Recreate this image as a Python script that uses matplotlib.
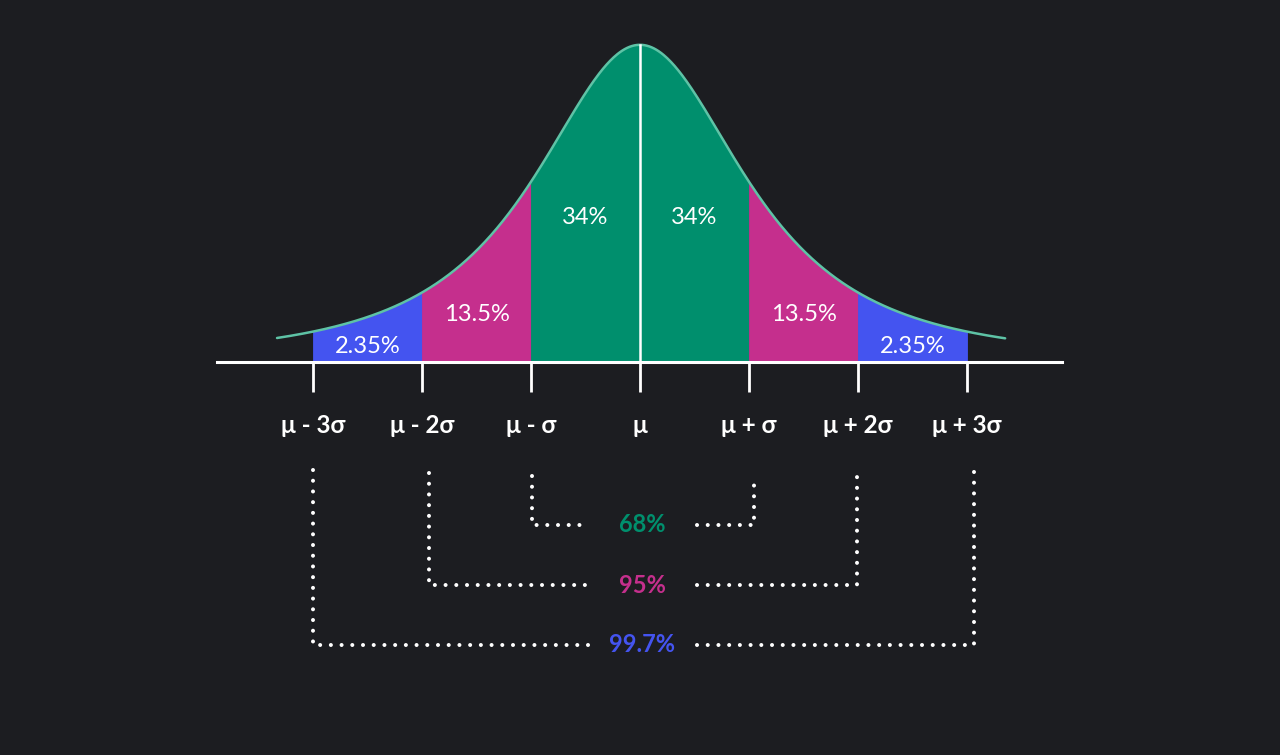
import numpy as np
import matplotlib.pyplot as plt

# colours
BG = "#1c1d21"
GREEN = "#008f6d"
PINK = "#c52f8d"
BLUE = "#4454f0"
CURVE = "#5ec3a6"
WHITE = "#ffffff"

# data (x in units of sigma)
SIGMA_STEPS = [-3, -2, -1, 0, 1, 2, 3]
TICK_LABELS = ["μ - 3σ", "μ - 2σ", "μ - σ", "μ", "μ + σ", "μ + 2σ", "μ + 3σ"]
BAND_FROM = [-3, -2, -1, 0, 1, 2]
BAND_TO = [-2, -1, 0, 1, 2, 3]
BAND_SHARES = ["2.35%", "13.5%", "34%", "34%", "13.5%", "2.35%"]
BAND_COLORS = [BLUE, PINK, GREEN, GREEN, PINK, BLUE]
COVERAGE = ["68%", "95%", "99.7%"]
COVERAGE_COLORS = [GREEN, PINK, BLUE]
BRACKET_LEFT = [-0.99, -1.94, -3.0]
BRACKET_RIGHT = [1.05, 1.99, 3.06]

# drawn bell shape (heavy-tailed, as in the picture)
PEAK_H = 2.91
NU = 1.7
SHAPE_A = 0.52
CURVE_FROM, CURVE_TO = -3.33, 3.35


def bell(x):
    return PEAK_H * (1 + SHAPE_A * x ** 2) ** (-(NU + 1) / 2)


plt.rcParams["font.family"] = ["Lato", "DejaVu Sans"]

fig = plt.figure(figsize=(12.8, 7.55), dpi=100, facecolor=BG)
ax = fig.add_axes([0, 0, 1, 1])
ax.set_facecolor(BG)
ax.set_xlim(-640 / 109, 640 / 109)
ax.set_ylim(-393 / 109, 362 / 109)
ax.axis("off")

# coloured bands under the curve
label_y = [0.14, 0.44, 1.33, 1.33, 0.44, 0.14]
for a, b, share, col, ly in zip(BAND_FROM, BAND_TO, BAND_SHARES, BAND_COLORS, label_y):
    xs = np.linspace(a, b, 200)
    ax.fill_between(xs, 0, bell(xs), color=col, lw=0.6, edgecolor=col, zorder=1)
    ax.text((a + b) / 2, ly, share, color=WHITE, fontsize=17, ha="center",
            va="center", zorder=4)

# curve, mean line, axis
xs = np.linspace(CURVE_FROM, CURVE_TO, 600)
ax.plot(xs, bell(xs), color=CURVE, lw=1.8, zorder=3, solid_capstyle="round")
ax.plot([0, 0], [0, PEAK_H], color=WHITE, lw=1.8, zorder=3)
ax.plot([-3.88, 3.87], [0, 0], color=WHITE, lw=2.2, zorder=3)
ax.vlines(SIGMA_STEPS, -0.275, 0, color=WHITE, lw=2, zorder=3)
for s, lab in zip(SIGMA_STEPS, TICK_LABELS):
    ax.text(s, -0.578, lab, color=WHITE, fontsize=17.5,
            fontweight="bold", ha="center", va="center")

# dotted brackets with coverage labels
dot = dict(color=WHITE, lw=2.9, linestyle=(0, (0.01, 2.65)), dash_capstyle="round")
tops = [-1.046, -1.018, -0.99]
rows = [-1.495, -2.046, -2.596]
for cov, col, xl, xr, top, row in zip(COVERAGE, COVERAGE_COLORS, BRACKET_LEFT,
                                      BRACKET_RIGHT, tops, rows):
    ax.plot([xl, xl, -0.46], [top, row, row], **dot)
    ax.plot([0.52, xr, xr], [row, row, top], **dot)
    ax.text(0.02, row, cov, color=col, fontsize=17, fontweight="bold",
            ha="center", va="center")

fig.savefig("out.png", dpi=100, facecolor=BG)
